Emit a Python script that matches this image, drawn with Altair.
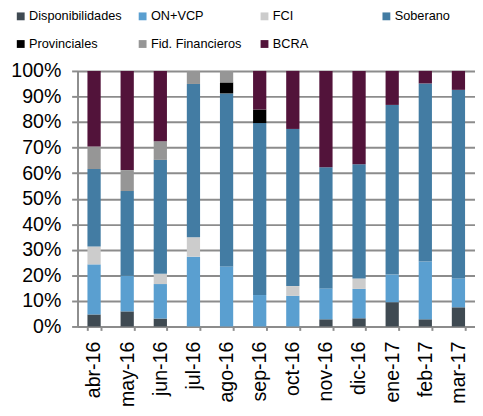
import altair as alt
import pandas as pd

months = ["abr-16", "may-16", "jun-16", "jul-16", "ago-16", "sep-16",
          "oct-16", "nov-16", "dic-16", "ene-17", "feb-17", "mar-17"]
series = ["Disponibilidades", "ON+VCP", "FCI", "Soberano",
          "Provinciales", "Fid. Financieros", "BCRA"]
colors = ["#3f4a52", "#5a9fd0", "#cccccc", "#437ca3",
          "#000000", "#969696", "#52133a"]

disp = [4.7, 5.9, 3.1, 0, 0, 0, 0, 2.8, 3.2, 9.5, 2.8, 7.5]
on_vcp = [19.6, 13.9, 13.5, 27.3, 23.5, 12.3, 12.0, 12.1, 11.5, 10.8, 22.6, 11.3]
fci = [7.0, 0, 4.0, 7.6, 0, 0, 3.8, 0, 4.1, 0, 0, 0]
soberano = [30.3, 33.2, 44.6, 60.0, 67.7, 67.3, 61.5, 47.4, 44.7, 66.4, 69.7, 73.8]
provinciales = [0, 0, 0, 0, 4.3, 5.3, 0, 0, 0, 0, 0, 0]
fid = [8.8, 8.2, 7.3, 5.1, 4.5, 0, 0, 0, 0, 0, 0, 0]
bcra = [29.6, 38.8, 27.5, 0, 0, 15.1, 22.7, 37.7, 36.5, 13.3, 4.9, 7.4]

y_ticks = [0, 0.1, 0.2, 0.3, 0.4, 0.5, 0.6, 0.7, 0.8, 0.9, 1.0]

values = [disp, on_vcp, fci, soberano, provinciales, fid, bcra]
rows = []
for i, m in enumerate(months):
    for k, (name, vals) in enumerate(zip(series, values)):
        rows.append({"mes": m, "serie": name, "orden": k, "valor": vals[i] / 100})
df = pd.DataFrame(rows)

FONT = "Liberation Sans"
GRAY = "#8c8c8c"

chart = alt.Chart(df).mark_bar().encode(
    x=alt.X("mes:N", sort=months,
            scale=alt.Scale(paddingInner=0.6, paddingOuter=0.3),
            axis=alt.Axis(title=None, labelAngle=-90, labelAlign="right",
                          labelBaseline="middle", tickBand="extent", grid=False,
                          domainColor=GRAY, domainWidth=2, tickColor=GRAY,
                          tickWidth=2, tickSize=4, labelPadding=11,
                          labelFont=FONT, labelFontSize=20, labelColor="#000000")),
    y=alt.Y("valor:Q", stack="zero",
            scale=alt.Scale(domain=[0, 1], nice=False),
            axis=alt.Axis(title=None, format=".0%", values=y_ticks,
                          grid=True, gridColor=GRAY, gridWidth=2,
                          domainColor=GRAY, domainWidth=2, tickColor=GRAY,
                          tickWidth=2, tickSize=6, labelPadding=11,
                          labelFont=FONT, labelFontSize=20, labelColor="#000000")),
    color=alt.Color("serie:N", sort=series, title=None,
                    scale=alt.Scale(domain=series, range=colors),
                    legend=alt.Legend(orient="none", legendX=-64.5, legendY=-62.5,
                                      direction="horizontal", columns=4,
                                      gridAlign="all", columnPadding=14.5,
                                      rowPadding=14.5, symbolType="square",
                                      symbolSize=64, symbolStrokeWidth=0,
                                      labelFont=FONT, labelFontSize=13,
                                      labelColor="#000000", labelOffset=2,
                                      padding=0)),
    order=alt.Order("orden:Q", sort="ascending"),
).properties(
    width=406, height=261,
    autosize=alt.AutoSizeParams(type="none"),
    padding={"left": 71, "top": 60, "right": 0, "bottom": 79},
).configure_view(strokeWidth=0)

chart.save("out.html", embed_options={"renderer": "svg", "actions": False})
